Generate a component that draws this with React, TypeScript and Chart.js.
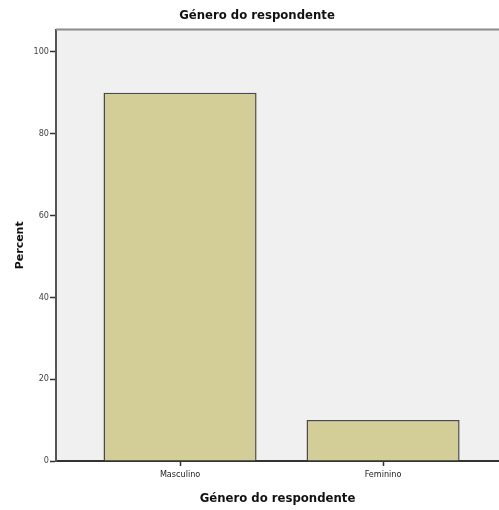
import { useEffect, useRef } from "react";
import { Chart, registerables } from "chart.js";

Chart.register(...registerables);

const chartTitle = "Género do respondente";
const xAxisTitle = "Género do respondente";
const yAxisTitle = "Percent";
const categories = ["Masculino", "Feminino"];
const percents = [90, 10];
const yTicks = [0, 20, 40, 60, 80, 100];

const condensed = "'DejaVu Sans Condensed', 'Liberation Sans Narrow', 'DejaVu Sans', sans-serif";

const plotFrame = {
  id: "plotFrame",
  beforeDraw(chart: any) {
    const { ctx, chartArea } = chart;
    ctx.save();
    ctx.fillStyle = "#F0F0F0";
    ctx.fillRect(chartArea.left, chartArea.top, chartArea.right - chartArea.left, chartArea.bottom - chartArea.top);
    ctx.restore();
  },
  afterDraw(chart: any) {
    const { ctx, chartArea } = chart;
    ctx.save();
    ctx.strokeStyle = "#8C8C8C";
    ctx.lineWidth = 2;
    ctx.beginPath();
    ctx.moveTo(chartArea.left, chartArea.top);
    ctx.lineTo(chartArea.right, chartArea.top);
    ctx.stroke();
    ctx.restore();
  },
};

export default function App() {
  const ref = useRef<HTMLCanvasElement | null>(null);

  useEffect(() => {
    document.body.style.margin = "0";
    const canvas = ref.current;
    if (!canvas) return;
    const chart = new Chart(canvas, {
      type: "bar",
      data: {
        datasets: [
          {
            label: yAxisTitle,
            data: categories.map((_, i) => ({ x: i, y: percents[i] })),
            backgroundColor: "#D3CE97",
            borderColor: "#4A4A4A",
            borderWidth: 1.5,
            barPercentage: 0.754,
            categoryPercentage: 1,
          },
        ],
      },
      options: {
        responsive: false,
        animation: false,
        devicePixelRatio: 1,
        layout: { padding: { left: 15, right: 0, top: 0, bottom: 0 } },
        plugins: {
          legend: { display: false },
          tooltip: { enabled: false },
          title: {
            display: true,
            text: chartTitle,
            color: "#111111",
            font: { family: condensed, size: 13, weight: "bold" },
            padding: { top: 8, bottom: 6 },
          },
        },
        scales: {
          x: {
            type: "linear",
            offset: false,
            min: -0.611,
            max: 1.571,
            afterBuildTicks: (s: any) => {
              s.ticks = categories.map((_, i) => ({ value: i }));
            },
            afterFit: (s: any) => {
              s.height = 49;
            },
            ticks: {
              autoSkip: false,
              maxRotation: 0,
              color: "#222222",
              padding: 3,
              font: { family: condensed, size: 9 },
              callback: (v: any) => categories[Math.round(Number(v))] ?? "",
            },
            grid: {
              display: true,
              offset: false,
              drawOnChartArea: false,
              drawTicks: true,
              tickLength: 5,
              tickColor: "#333333",
              tickWidth: 1.5,
            },
            border: { display: true, color: "#333333", width: 2 },
            title: {
              display: true,
              text: xAxisTitle,
              color: "#111111",
              font: { family: condensed, size: 13, weight: "bold" },
              padding: { top: 2, bottom: 4 },
            },
          },
          y: {
            min: 0,
            max: 105.4,
            afterBuildTicks: (s: any) => {
              s.ticks = yTicks.map((v) => ({ value: v }));
            },
            afterFit: (s: any) => {
              s.width = 41;
            },
            ticks: {
              color: "#444444",
              padding: 1,
              font: { family: condensed, size: 9 },
            },
            grid: {
              display: true,
              drawOnChartArea: false,
              drawTicks: true,
              tickLength: 6,
              tickColor: "#333333",
              tickWidth: 1.5,
            },
            border: { display: true, color: "#555555", width: 2 },
            title: {
              display: true,
              text: yAxisTitle,
              color: "#111111",
              font: { family: "'DejaVu Sans', sans-serif", size: 11, weight: "bold", lineHeight: 1 },
              padding: { top: 0, bottom: 0 },
            },
          },
        },
      },
      plugins: [plotFrame],
    });
    return () => chart.destroy();
  }, []);

  return (
    <div style={{ width: 499, height: 510 }}>
      <canvas ref={ref} width={499} height={510} />
    </div>
  );
}
